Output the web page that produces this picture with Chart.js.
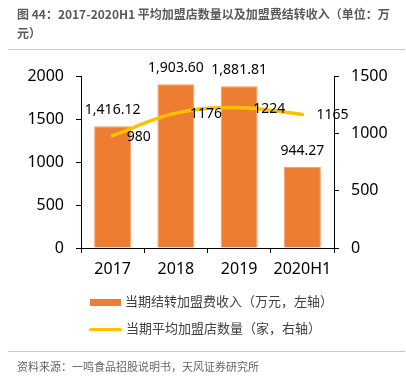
<!DOCTYPE html>
<html>
<head>
<meta charset="utf-8">
<script src="https://cdn.jsdelivr.net/npm/chart.js@4.4.1/dist/chart.umd.min.js"></script>
<style>
  html,body{margin:0;padding:0;background:#fff;}
  #wrap{position:relative;width:406px;height:387px;overflow:hidden;font-family:"Noto Sans","Noto Sans CJK SC",sans-serif;}
  #c{position:absolute;left:0;top:0;}
  .title{position:absolute;left:17px;top:4px;width:385px;font-size:12px;line-height:19px;font-weight:bold;color:#595959;font-family:"Noto Sans CJK SC","Noto Sans",sans-serif;}
  .rule{position:absolute;left:8px;width:397px;height:0;border-top:1.5px solid #F9BE8C;}
  .src{position:absolute;left:17px;top:358px;font-size:11px;line-height:16px;color:#666;font-family:"Noto Sans CJK SC",sans-serif;}
  .leg{position:absolute;left:89px;font-size:13px;line-height:18px;color:#404040;font-family:"Noto Sans CJK SC",sans-serif;white-space:nowrap;}
  .leg .sw{display:inline-block;vertical-align:middle;margin-right:4px;}
</style>
</head>
<body>
<div id="wrap">
  <canvas id="c" width="406" height="387"></canvas>
  <div class="title">图 44：2017-2020H1 平均加盟店数量以及加盟费结转收入（单位：万元）</div>
  <div class="rule" style="top:49px"></div>
  <div class="leg" style="top:292px"><span class="sw" style="width:31px;height:7px;background:#ED7D31;margin-left:1px;"></span><span id="l1"></span></div>
  <div class="leg" style="top:319px"><span class="sw" style="width:33px;height:3px;background:#FFC000;border-radius:2px;"></span><span id="l2"></span></div>
  <div class="rule" style="top:351px"></div>
  <div class="src">资料来源：一鸣食品招股说明书，天风证券研究所</div>
</div>
<script>
const categories = ["2017", "2018", "2019", "2020H1"];
const feeIncome = [1416.12, 1903.60, 1881.81, 944.27];
const storeCount = [980, 1176, 1224, 1165];
const leftTicks = [0, 500, 1000, 1500, 2000];
const rightTicks = [0, 500, 1000, 1500];
const seriesNames = ["当期结转加盟费收入（万元，左轴）", "当期平均加盟店数量（家，右轴）"];

document.getElementById('l1').textContent = seriesNames[0];
document.getElementById('l2').textContent = seriesNames[1];

const fmt2 = v => v.toLocaleString('en-US', {minimumFractionDigits: 2, maximumFractionDigits: 2});

const labelPlugin = {
  id: 'labels',
  afterDatasetsDraw(chart) {
    const ctx = chart.ctx;
    ctx.save();
    ctx.font = '14px "Noto Sans", sans-serif';
    ctx.fillStyle = '#000';
    const bars = chart.getDatasetMeta(1).data;
    ctx.textAlign = 'center';
    ctx.textBaseline = 'middle';
    bars.forEach((b, i) => {
      ctx.fillText(fmt2(feeIncome[i]), b.x, b.y - 16);
    });
    const pts = chart.getDatasetMeta(0).data;
    ctx.textAlign = 'left';
    pts.forEach((p, i) => {
      ctx.fillText(String(storeCount[i]), p.x + 14, p.y + 1);
    });
    ctx.restore();
  }
};

const axisCommon = {
  grid: {drawOnChartArea: false, drawTicks: true, tickLength: 5, color: '#000'},
  border: {color: '#000', width: 1},
};
const tickFont = {size: 16, family: '"Noto Sans", sans-serif'};

new Chart(document.getElementById('c'), {
  type: 'bar',
  data: {
    labels: categories,
    datasets: [
      {
        type: 'line',
        label: seriesNames[1],
        data: storeCount,
        yAxisID: 'y1',
        borderColor: '#FFC000',
        borderWidth: 3.5,
        pointRadius: 0,
        tension: 0.4,
        borderCapStyle: 'round',
        fill: false,
        order: 0
      },
      {
        type: 'bar',
        label: seriesNames[0],
        data: feeIncome,
        yAxisID: 'y',
        backgroundColor: '#ED7D31',
        borderColor: '#F4A070',
        borderWidth: 1,
        categoryPercentage: 1,
        barPercentage: 0.585,
        order: 1
      }
    ]
  },
  options: {
    responsive: false,
    animation: false,
    devicePixelRatio: 1,
    layout: {padding: {top: 76, left: 0, right: 0, bottom: 0}},
    plugins: {legend: {display: false}, tooltip: {enabled: false}},
    scales: {
      x: {
        ...axisCommon,
        grid: {...axisCommon.grid, offset: true},
        ticks: {color: '#000', font: tickFont, padding: 7, maxRotation: 0},
        afterFit(s) { s.height = 139; }
      },
      y: {
        ...axisCommon,
        position: 'left',
        min: 0, max: 2000,
        afterBuildTicks(s) { s.ticks = leftTicks.map(v => ({value: v})); },
        ticks: {color: '#000', font: tickFont, padding: 12, callback: v => String(v)},
        afterFit(s) { s.width = 81; }
      },
      y1: {
        ...axisCommon,
        position: 'right',
        min: 0, max: 1500,
        afterBuildTicks(s) { s.ticks = rightTicks.map(v => ({value: v})); },
        ticks: {color: '#000', font: tickFont, padding: 12, callback: v => String(v)},
        afterFit(s) { s.width = 72; }
      }
    }
  },
  plugins: [labelPlugin]
});
</script>
</body>
</html>
